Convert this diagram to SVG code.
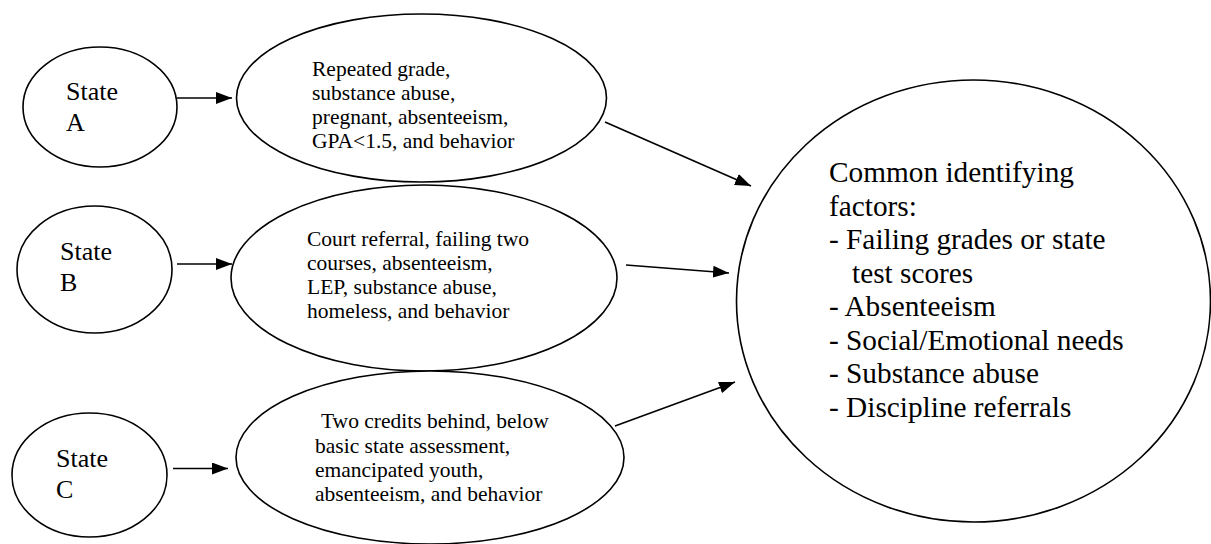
<svg xmlns="http://www.w3.org/2000/svg" width="1211" height="544" viewBox="0 0 1211 544">
  <style>
    .shape { fill: #ffffff; stroke: #000000; stroke-width: 1.6; }
    .edge { fill: none; stroke: #000000; stroke-width: 1.6; }
    .state { font-family: "Liberation Serif", "Times New Roman", serif; font-size: 26px; fill: #000000; }
    .small { font-family: "Liberation Serif", "Times New Roman", serif; font-size: 21.5px; fill: #000000; }
    .big { font-family: "Liberation Serif", "Times New Roman", serif; font-size: 29.3px; fill: #000000; }
  </style>
  <defs>
    <marker id="arrow" markerUnits="userSpaceOnUse" markerWidth="16" markerHeight="12" refX="16" refY="6" orient="auto">
      <path d="M0,0 L16,6 L0,12 Z" fill="#000000"/>
    </marker>
  </defs>
  <rect width="1211" height="544" fill="#ffffff"/>

  <!-- state circles -->
  <g id="state-a">
    <ellipse class="shape" cx="100" cy="107" rx="77" ry="60"/>
    <text class="state" x="66" y="100">State</text>
    <text class="state" x="66" y="131">A</text>
  </g>
  <g id="state-b">
    <ellipse class="shape" cx="94.5" cy="269.5" rx="77.5" ry="63.5"/>
    <text class="state" x="60" y="260">State</text>
    <text class="state" x="60" y="291">B</text>
  </g>
  <g id="state-c">
    <ellipse class="shape" cx="89.5" cy="475" rx="77.5" ry="62"/>
    <text class="state" x="56" y="467">State</text>
    <text class="state" x="56" y="498">C</text>
  </g>

  <!-- criteria ellipses -->
  <g id="criteria-a">
    <ellipse class="shape" cx="421.5" cy="98" rx="185" ry="84"/>
    <text class="small" x="312" y="76">Repeated grade,</text>
    <text class="small" x="312" y="100">substance abuse,</text>
    <text class="small" x="312" y="124">pregnant, absenteeism,</text>
    <text class="small" x="312" y="148">GPA&lt;1.5, and behavior</text>
  </g>
  <g id="criteria-b">
    <ellipse class="shape" cx="424" cy="278" rx="193" ry="93"/>
    <text class="small" x="307" y="246">Court referral, failing two</text>
    <text class="small" x="307" y="270">courses, absenteeism,</text>
    <text class="small" x="307" y="294">LEP, substance abuse,</text>
    <text class="small" x="307" y="318">homeless, and behavior</text>
  </g>
  <g id="criteria-c">
    <ellipse class="shape" cx="430" cy="457.5" rx="194" ry="86.5"/>
    <text class="small" x="316" y="428" xml:space="preserve"> Two credits behind, below</text>
    <text class="small" x="315" y="453">basic state assessment,</text>
    <text class="small" x="315" y="477">emancipated youth,</text>
    <text class="small" x="315" y="501">absenteeism, and behavior</text>
  </g>

  <!-- common factors -->
  <g id="common-factors">
    <ellipse class="shape" cx="973.5" cy="301" rx="237" ry="221"/>
    <text class="big" x="829" y="182">Common identifying</text>
    <text class="big" x="829" y="215.5">factors:</text>
    <text class="big" x="829" y="249">- Failing grades or state</text>
    <text class="big" x="852" y="282.5">test scores</text>
    <text class="big" x="829" y="316">- Absenteeism</text>
    <text class="big" x="829" y="349.5">- Social/Emotional needs</text>
    <text class="big" x="829" y="383">- Substance abuse</text>
    <text class="big" x="829" y="416.5">- Discipline referrals</text>
  </g>

  <!-- connectors -->
  <g id="connectors">
    <line class="edge" x1="177" y1="98" x2="232" y2="98" marker-end="url(#arrow)"/>
    <line class="edge" x1="177" y1="264" x2="232" y2="264" marker-end="url(#arrow)"/>
    <line class="edge" x1="173" y1="468.5" x2="228" y2="468.5" marker-end="url(#arrow)"/>
    <line class="edge" x1="605" y1="122" x2="751" y2="186" marker-end="url(#arrow)"/>
    <line class="edge" x1="626" y1="265" x2="729" y2="273" marker-end="url(#arrow)"/>
    <line class="edge" x1="615" y1="426" x2="735" y2="382" marker-end="url(#arrow)"/>
  </g>
</svg>
